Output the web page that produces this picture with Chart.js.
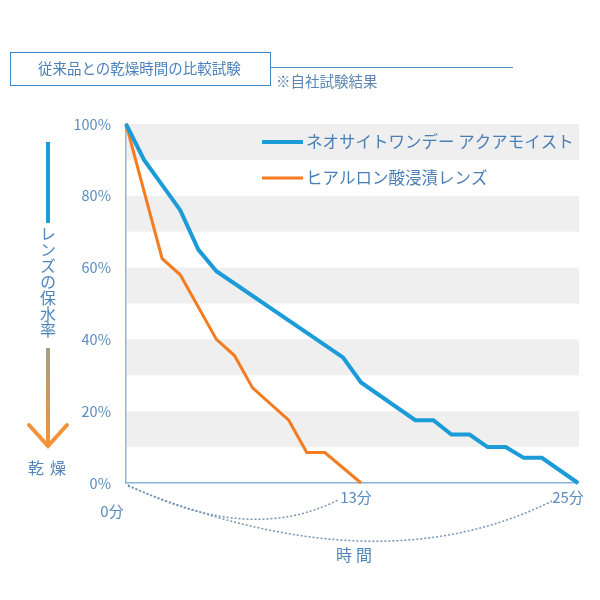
<!DOCTYPE html>
<html>
<head>
<meta charset="utf-8">
<script src="https://cdn.jsdelivr.net/npm/chart.js@4"></script>
<style>
  html, body { margin: 0; padding: 0; background: #fff; }
  #wrap { position: relative; width: 600px; height: 600px; overflow: hidden; font-family: "Noto Sans CJK JP", "Noto Sans", sans-serif; }
  #c { position: absolute; left: 0; top: 0; }
  .abs { position: absolute; white-space: nowrap; }
  #titleBox { left: 10px; top: 52px; width: 261px; height: 34px; border: 1.5px solid #3f88c5; box-sizing: border-box; }
  #titleText { left: 38px; top: 59px; font-size: 14.5px; color: #4a80b8; line-height: 18px; }
  #titleLine { left: 271px; top: 67px; width: 242px; height: 0; border-top: 1.5px solid #4a90c8; }
  #note { left: 276px; top: 72px; font-size: 14.5px; color: #5b86b4; line-height: 18px; }
  #vbar { left: 46px; top: 142px; width: 4px; height: 81px; background: #1b9bd8; }
  #vtext { left: 39px; top: 226px; font-size: 16px; color: #4f84bb; writing-mode: vertical-rl; line-height: 18px; }
  #gline { left: 46px; top: 348px; width: 4px; height: 96px; background: linear-gradient(#a59f86, #f3923a); }
  #dry { left: 28px; top: 457px; font-size: 16px; color: #4f84bb; letter-spacing: 6px; line-height: 20px; }
  #timeLbl { left: 336px; top: 544px; font-size: 16px; color: #4f84bb; letter-spacing: 4px; line-height: 20px; }
</style>
</head>
<body>
<div id="wrap">
  <canvas id="c" width="600" height="600"></canvas>
  <div class="abs" id="titleBox"></div>
  <div class="abs" id="titleText">従来品との乾燥時間の比較試験</div>
  <div class="abs" id="titleLine"></div>
  <div class="abs" id="note">※自社試験結果</div>
  <div class="abs" id="vbar"></div>
  <div class="abs" id="vtext">レンズの保水率</div>
  <div class="abs" id="gline"></div>
  <svg class="abs" style="left:0;top:0" width="100" height="480">
    <polyline points="29,425 48,446 67,425" fill="none" stroke="#f3923a" stroke-width="4" stroke-linecap="round" stroke-linejoin="miter"/>
  </svg>
  <div class="abs" id="dry">乾燥</div>
  <div class="abs" id="timeLbl">時間</div>
</div>
<script>
// ---- data ----
const seriesLabels = ['ネオサイトワンデー アクアモイスト', 'ヒアルロン酸浸漬レンズ'];
const minutesNeo = [0, 1, 3, 4, 5, 12, 13, 16, 17, 18, 19, 20, 21, 22, 23, 25];
const waterNeo   = [100, 90, 76, 65, 59, 35, 28, 17.5, 17.5, 13.5, 13.5, 10, 10, 7, 7, 0];
const minutesHya = [0, 2, 3, 5, 6, 7, 9, 10, 11, 13];
const waterHya   = [100, 62.5, 58, 40, 35.5, 26.5, 17.5, 8.5, 8.5, 0];
const yTickValues = [0, 20, 40, 60, 80, 100];
const xTickValues = [0, 13, 25];
const xTickLabels = ['0分', '13分', '25分'];
const bandRanges = [[90, 100], [70, 80], [50, 60], [30, 40], [10, 20]];

const colors = ['#1b9bd8', '#f47b20'];
const textColor = '#5a8cc0';

const toPoints = (xs, ys) => xs.map((x, i) => ({ x: x, y: ys[i] }));

const bandsPlugin = {
  id: 'bands',
  beforeDatasetsDraw(chart) {
    const { ctx, chartArea, scales } = chart;
    ctx.save();
    ctx.fillStyle = '#efefef';
    bandRanges.forEach(([lo, hi]) => {
      const yTop = scales.y.getPixelForValue(hi);
      const yBot = scales.y.getPixelForValue(lo);
      ctx.fillRect(chartArea.left + 1, yTop, chartArea.right - chartArea.left, yBot - yTop);
    });
    ctx.restore();
  }
};

const extrasPlugin = {
  id: 'extras',
  afterDraw(chart) {
    const { ctx, scales, chartArea } = chart;
    ctx.save();
    // legend
    ctx.font = '16.5px "Noto Sans CJK JP"';
    ctx.textBaseline = 'middle';
    ctx.textAlign = 'left';
    const legY = [142, 178];
    chart.data.datasets.forEach((ds, i) => {
      ctx.strokeStyle = ds.borderColor;
      ctx.lineWidth = i === 0 ? 4 : 3;
      ctx.beginPath();
      ctx.moveTo(262, legY[i]);
      ctx.lineTo(303, legY[i]);
      ctx.stroke();
      ctx.fillStyle = '#4a7fb5';
      ctx.fillText(ds.label, 306, legY[i]);
    });
    // x labels
    ctx.font = '15px "Noto Sans CJK JP"';
    ctx.fillStyle = textColor;
    ctx.textAlign = 'center';
    const offs = [[-14, 28], [-5, 14], [-10, 14]];
    xTickValues.forEach((v, i) => {
      const px = scales.x.getPixelForValue(v);
      ctx.fillText(xTickLabels[i], px + offs[i][0], chartArea.bottom + offs[i][1]);
    });
    // dotted arcs
    const x0 = scales.x.getPixelForValue(0);
    const x13 = scales.x.getPixelForValue(13);
    const x25 = scales.x.getPixelForValue(25);
    const yb = chartArea.bottom;
    ctx.strokeStyle = '#7894b4';
    ctx.lineWidth = 1.5;
    ctx.setLineDash([2, 2]);
    ctx.beginPath();
    ctx.moveTo(x0 + 2, yb + 2);
    ctx.quadraticCurveTo(x0 + 124, yb + 62, x13 - 23, yb + 17);
    ctx.stroke();
    ctx.beginPath();
    ctx.moveTo(x0 + 2, yb + 3);
    ctx.quadraticCurveTo(x0 + 252, yb + 106, x25 - 24, yb + 17);
    ctx.stroke();
    ctx.restore();
  }
};

new Chart(document.getElementById('c'), {
  type: 'line',
  data: {
    datasets: [
      { label: seriesLabels[0], data: toPoints(minutesNeo, waterNeo), borderColor: colors[0], backgroundColor: colors[0], borderWidth: 4, pointRadius: 0, tension: 0, order: 1 },
      { label: seriesLabels[1], data: toPoints(minutesHya, waterHya), borderColor: colors[1], backgroundColor: colors[1], borderWidth: 3, pointRadius: 0, tension: 0, order: 2 }
    ]
  },
  options: {
    responsive: false,
    animation: false,
    events: [],
    layout: { padding: { left: 0, right: 22, top: 124, bottom: 117 } },
    plugins: { legend: { display: false }, tooltip: { enabled: false } },
    clip: false,
    scales: {
      x: {
        type: 'linear', min: 0, max: 25,
        grid: { display: false, drawTicks: false },
        border: { display: true, color: '#8db3d6', width: 1.5 },
        ticks: { display: false },
        afterFit(scale) { scale.height = 0; }
      },
      y: {
        min: 0, max: 100,
        afterBuildTicks(scale) { scale.ticks = yTickValues.map(v => ({ value: v })); },
        grid: { display: false, drawTicks: false },
        border: { display: true, color: '#8db3d6', width: 1.5 },
        ticks: {
          padding: 15,
          color: textColor,
          font: { family: '"Noto Sans CJK JP"', size: 14.5 },
          callback: v => v + '%'
        },
        afterFit(scale) { scale.width = 126; }
      }
    }
  },
  plugins: [bandsPlugin, extrasPlugin]
});
</script>
</body>
</html>
